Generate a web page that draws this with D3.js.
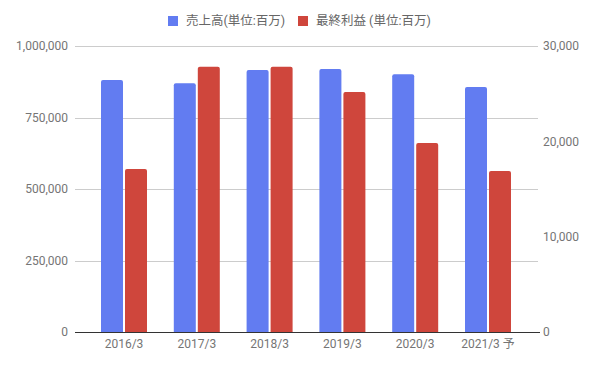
<!DOCTYPE html>
<html>
<head>
<meta charset="utf-8">
<script src="https://cdn.jsdelivr.net/npm/d3@7"></script>
<style>
  html, body { margin: 0; padding: 0; background: #fff; }
  svg { display: block; }
  text { font-family: Roboto, "Noto Sans CJK JP", sans-serif; }
</style>
</head>
<body>
<svg id="chart" width="595" height="367"></svg>
<script>
const categories = ["2016/3", "2017/3", "2018/3", "2019/3", "2020/3", "2021/3 予"];
const salesValues = [881000, 870000, 916000, 920000, 901000, 857000];
const profitValues = [17100, 27830, 27830, 25180, 19830, 16890];
const seriesNames = ["売上高(単位:百万)", "最終利益 (単位:百万)"];
const leftTicks = [0, 250000, 500000, 750000, 1000000];
const rightTicks = [0, 10000, 20000, 30000];

const colors = ["#627cf1", "#cf463c"];
const svg = d3.select("#chart");

const plot = { left: 75, right: 538, top: 46, bottom: 332 };

const x = d3.scaleBand().domain(categories).range([87.6, 524.4]).padding(0);
const yL = d3.scaleLinear().domain([0, 1000000]).range([plot.bottom, plot.top]);
const yR = d3.scaleLinear().domain([0, 30000]).range([plot.bottom, plot.top]);

const fmt = d3.format(",");

// gridlines
svg.append("g").selectAll("line").data(leftTicks.filter(d => d > 0)).join("line")
  .attr("x1", plot.left).attr("x2", plot.right)
  .attr("y1", d => Math.round(yL(d)) + 0.5).attr("y2", d => Math.round(yL(d)) + 0.5)
  .attr("stroke", "#cccccc").attr("stroke-width", 1);

// left axis labels
svg.append("g").selectAll("text").data(leftTicks).join("text")
  .attr("x", 68).attr("y", d => yL(d)).attr("dy", "0.35em")
  .attr("text-anchor", "end").attr("font-size", 12).attr("fill", "#757575")
  .text(d => fmt(d));

// right axis labels
svg.append("g").selectAll("text").data(rightTicks).join("text")
  .attr("x", 543).attr("y", d => yR(d)).attr("dy", "0.35em")
  .attr("text-anchor", "start").attr("font-size", 12).attr("fill", "#757575")
  .text(d => fmt(d));

// bars
const barW = 22, gap = 2;
function roundedTop(x0, y0, w, h, r) {
  r = Math.min(r, h, w / 2);
  return `M${x0},${y0 + h}V${y0 + r}Q${x0},${y0} ${x0 + r},${y0}H${x0 + w - r}Q${x0 + w},${y0} ${x0 + w},${y0 + r}V${y0 + h}Z`;
}
const center = c => x(c) + x.bandwidth() / 2;

svg.append("g").selectAll("path").data(categories).join("path")
  .attr("fill", colors[0])
  .attr("d", (c, i) => {
    const x0 = center(c) - gap / 2 - barW;
    const y0 = yL(salesValues[i]);
    return roundedTop(x0, y0, barW, plot.bottom - y0, 2);
  });
svg.append("g").selectAll("path").data(categories).join("path")
  .attr("fill", colors[1])
  .attr("d", (c, i) => {
    const x0 = center(c) + gap / 2;
    const y0 = yR(profitValues[i]);
    return roundedTop(x0, y0, barW, plot.bottom - y0, 2);
  });

// baseline
svg.append("line")
  .attr("x1", plot.left).attr("x2", plot.right + 2)
  .attr("y1", plot.bottom + 0.5).attr("y2", plot.bottom + 0.5)
  .attr("stroke", "#333333").attr("stroke-width", 1);

// x labels
svg.append("g").selectAll("text").data(categories).join("text")
  .attr("x", c => center(c)).attr("y", 348)
  .attr("text-anchor", "middle").attr("font-size", 12).attr("fill", "#757575")
  .text(c => c);

// legend
const legendX = [168, 298];
const lg = svg.append("g").selectAll("g").data(seriesNames).join("g");
lg.append("rect")
  .attr("x", (d, i) => legendX[i]).attr("y", 16).attr("width", 10).attr("height", 10)
  .attr("fill", (d, i) => colors[i]);
lg.append("text")
  .attr("x", (d, i) => legendX[i] + 18).attr("y", 21).attr("dy", "0.35em")
  .attr("font-size", 12.5).attr("fill", "#666666")
  .text(d => d);
</script>
</body>
</html>
